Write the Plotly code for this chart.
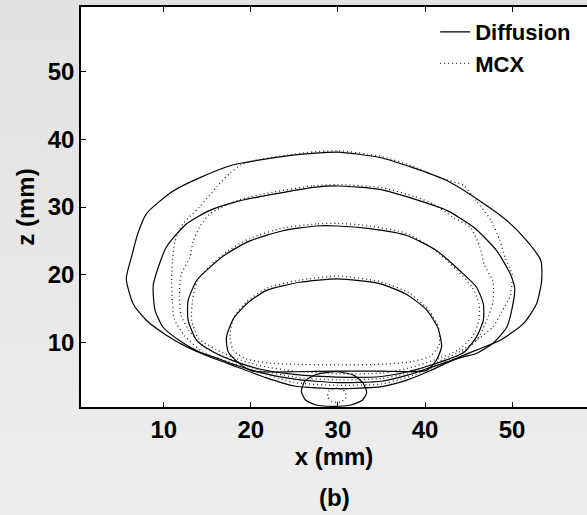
import plotly.graph_objects as go

# ---------------- data (mm) ----------------
# Diffusion contours (solid)
d1_x = [30, 27, 24, 21.8, 17.9, 14.1, 11.0, 8.0, 7.0, 6.4, 5.7, 6.5, 8.0, 10.3, 12.6, 14.9,
        18, 21.8, 25, 30, 35, 38, 40.5, 44.0, 46.3, 48.6, 51.3, 52.8, 53.4, 53.3, 51.7, 49.4,
        46.3, 42.5, 38.6, 34.8, 30]
d1_z = [38.1, 37.9, 37.5, 37.1, 36.2, 34.3, 32.3, 29.0, 26.0, 23.1, 19.4, 15.7, 13.3, 11.1, 9.4, 8.1,
        6.6, 4.8, 3.6, 3.2, 3.5, 4.5, 5.8, 7.9, 9.1, 10.3, 12.8, 15.7, 19.2, 22.1, 25.0, 28.0,
        30.9, 33.9, 35.8, 37.3, 38.1]

d2_x = [30, 27.2, 22.6, 18.7, 15.3, 12.6, 10.3, 8.8, 9.0, 9.9, 11.8, 14.1, 15.7,
        18, 21, 25, 30, 35, 38, 41, 44.4, 45.9, 47.8, 49.4, 50.1, 50.3, 49.8, 48.2,
        45.6, 42.5, 38.7, 34.8, 30]
d2_z = [33.1, 32.9, 31.9, 30.9, 29.5, 27.5, 24.1, 18.5, 14.8, 12.3, 10.3, 8.6, 7.9,
        6.8, 5.6, 4.6, 4.1, 4.3, 5.2, 6.5, 7.9, 8.4, 9.9, 12.3, 15.7, 18.0, 20.1, 23.6,
        27.0, 29.5, 31.2, 32.6, 33.1]

d3_x = [30, 27.5, 23.7, 19.9, 17.2, 15.3, 13.8, 12.8, 12.8, 13.8, 15.7,
        18, 21, 25, 30, 35, 38, 41, 44.4, 45.9, 46.7, 46.7, 45.9, 44.0, 41.3, 37.9, 33.7, 30]
d3_z = [27.2, 27.2, 26.5, 25.0, 23.1, 21.1, 19.2, 16.2, 13.3, 10.3, 8.6,
        7.3, 6.1, 5.3, 4.9, 5.0, 5.7, 6.8, 8.5, 10.8, 13.3, 15.7, 18.2, 20.6, 23.6, 25.8, 26.8, 27.2]

d4_x = [30, 25.6, 21.8, 19.5, 18.0, 17.2, 17.4, 18.7, 20.2, 25, 30, 35, 40.2,
        41.3, 41.9, 41.5, 40.2, 37.9, 34.8, 30]
d4_z = [19.4, 18.9, 17.7, 15.7, 13.5, 10.8, 8.6, 6.9, 5.8, 5.7, 5.8, 5.8, 5.9,
        7.4, 9.4, 12.1, 14.8, 17.1, 18.7, 19.4]

d5_x = [29.8, 27.5, 26.2, 25.8, 26.3, 27.5, 29.5, 31.5, 32.8, 33.3, 32.9, 31.8, 29.8]
d5_z = [5.7, 5.3, 4.3, 2.8, 1.5, 0.8, 0.6, 0.8, 1.5, 2.6, 4.0, 5.2, 5.7]

# MCX contours (dotted)
m1_x = [30, 27, 24, 21, 19, 17.6, 16.1, 14.1, 12.2, 11.3, 11.0, 10.9, 11.0, 11.2, 12.4, 14.5,
        18, 21.8, 25, 30, 35, 38, 41, 44.0, 45.9, 47.8, 48.8, 49.8, 50.0, 49.2, 48.6, 47.6,
        45.9, 44.4, 41.7, 38.6, 34.8, 30]
m1_z = [38.3, 38.1, 37.6, 37.0, 36.3, 35.0, 33.0, 30.0, 27.5, 25.0, 22.0, 19.0, 16.0, 13.5, 11.0, 8.6,
        6.9, 5.3, 4.1, 3.7, 3.9, 4.9, 6.4, 8.3, 10.3, 12.3, 14.5, 17.0, 20.0, 22.5, 25.0, 28.0,
        30.9, 33.2, 34.3, 36.0, 37.5, 38.3]

m2_x = [30, 27, 22.6, 18.7, 15.3, 14.1, 13.4, 13.0, 12.0, 11.8, 12.0, 12.9, 14.3, 16.0,
        18, 21, 25, 30, 35, 38, 41, 44.0, 46.0, 47.1, 47.8, 47.8, 46.8, 46.3, 45.2, 43.2,
        41.0, 38.7, 34.8, 30]
m2_z = [33.3, 33.1, 32.2, 31.1, 29.0, 27.0, 25.0, 22.6, 20.0, 17.0, 14.0, 11.8, 9.8, 8.4,
        7.4, 6.0, 4.9, 4.5, 4.7, 5.5, 6.9, 8.7, 10.5, 13.3, 16.0, 19.0, 21.5, 24.1, 27.0, 28.5,
        30.4, 31.6, 32.9, 33.3]

m3_x = [30, 27.5, 23.7, 19.9, 17.2, 15.3, 13.8, 13.3, 13.2, 14.0, 16.0,
        18, 21, 25, 30, 35, 38, 41, 43.8, 45.5, 46.2, 46.2, 45.4, 43.6, 41.0, 37.9, 33.7, 30]
m3_z = [27.6, 27.5, 26.9, 25.4, 23.4, 21.3, 19.0, 16.2, 13.3, 10.6, 9.0,
        7.8, 6.6, 5.8, 5.4, 5.5, 6.2, 7.4, 8.9, 11.0, 13.3, 15.7, 18.2, 20.8, 23.8, 26.1, 27.2, 27.6]

m4_x = [30, 25.6, 21.8, 19.5, 18.0, 17.6, 18.0, 19.5, 22, 25, 30, 35, 38.5,
        40.6, 41.6, 41.6, 40.4, 38.2, 34.8, 30]
m4_z = [19.8, 19.2, 18.0, 16.0, 13.6, 10.8, 8.8, 7.6, 7.0, 6.8, 6.7, 6.8, 7.2,
        8.0, 9.6, 12.1, 14.8, 17.3, 19.0, 19.8]

m5_x = [29.8, 29.0, 28.8, 29.3, 30.2, 30.9, 30.8, 29.8]
m5_z = [3.3, 2.9, 2.0, 1.3, 1.2, 1.8, 2.8, 3.3]

x_ticks = [10, 20, 30, 40, 50]
z_ticks = [10, 20, 30, 40, 50]
series_names = ["Diffusion", "MCX"]

# ---------------- figure ----------------
FONT = "Liberation Sans, Arial, Helvetica, sans-serif"
fig = go.Figure()

diff = [(d1_x, d1_z), (d2_x, d2_z), (d3_x, d3_z), (d4_x, d4_z), (d5_x, d5_z)]
mcx = [(m1_x, m1_z), (m2_x, m2_z), (m3_x, m3_z), (m4_x, m4_z), (m5_x, m5_z)]

for i, (xs, zs) in enumerate(diff):
    fig.add_trace(go.Scatter(x=xs, y=zs, mode="lines", name=series_names[0],
                             legendgroup="d", showlegend=(i == 0),
                             line=dict(color="black", width=1.2, shape="spline", smoothing=0.6)))
for i, (xs, zs) in enumerate(mcx):
    fig.add_trace(go.Scatter(x=xs, y=zs, mode="lines", name=series_names[1],
                             legendgroup="m", showlegend=(i == 0),
                             line=dict(color="#222222", width=1.3, dash="1px,3px",
                                       shape="spline", smoothing=0.6)))

# background gradient (light grey, darker at top)
shapes = []
greys = ["#e2e2e2", "#e3e3e3", "#e4e4e4", "#e5e5e5", "#e6e6e6", "#e7e7e7",
         "#e8e8e8", "#e9e9e9", "#eaeaea", "#ebebeb", "#ececec", "#ededed"]
y_top, y_bot = 1.02, -0.28
n = len(greys)
for k, c in enumerate(greys):
    y1 = y_top - (y_top - y_bot) * k / n
    y0 = y_top - (y_top - y_bot) * (k + 1) / n
    shapes.append(dict(type="rect", xref="paper", yref="paper", x0=-0.2, x1=1.05,
                       y0=y0, y1=y1, fillcolor=c, line=dict(width=0), layer="below"))
shapes.append(dict(type="rect", xref="paper", yref="paper", x0=0, x1=1, y0=0, y1=1,
                   fillcolor="white", line=dict(width=0), layer="below"))

axis_common = dict(showgrid=False, zeroline=False, ticks="inside", ticklen=5,
                   tickwidth=1, tickcolor="black", linecolor="black", linewidth=1.5,
                   showline=True,
                   tickfont=dict(family=FONT, size=24, color="black", weight="bold"))

fig.update_layout(
    width=587, height=515,
    margin=dict(l=81, r=0, t=7, b=108, autoexpand=False),
    paper_bgcolor="#e8e8e8", plot_bgcolor="white",
    shapes=shapes,
    xaxis=dict(range=[0.5, 58.6], tickvals=x_ticks, mirror="ticks",
               title=dict(text="x (mm)", standoff=2,
                          font=dict(family=FONT, size=24, color="black", weight="bold")),
               **axis_common),
    yaxis=dict(range=[0.5, 59.5], tickvals=z_ticks, mirror=False,
               title=dict(text="z (mm)", standoff=6,
                          font=dict(family=FONT, size=24, color="black", weight="bold")),
               **axis_common),
    legend=dict(x=0.70, y=0.99, xanchor="left", yanchor="top",
                bgcolor="rgba(0,0,0,0)", borderwidth=0, tracegroupgap=0,
                font=dict(family=FONT, size=22, color="black", weight="bold")),
    showlegend=True,
    annotations=[dict(text="(b)", xref="paper", yref="paper", x=0.5, y=-0.225,
                      xanchor="center", yanchor="middle", showarrow=False,
                      font=dict(family=FONT, size=24, color="black", weight="bold"))],
)

fig.write_html("out.html", config={"displayModeBar": False},
               post_script="document.body.style.margin='0';document.body.style.overflow='hidden';")
